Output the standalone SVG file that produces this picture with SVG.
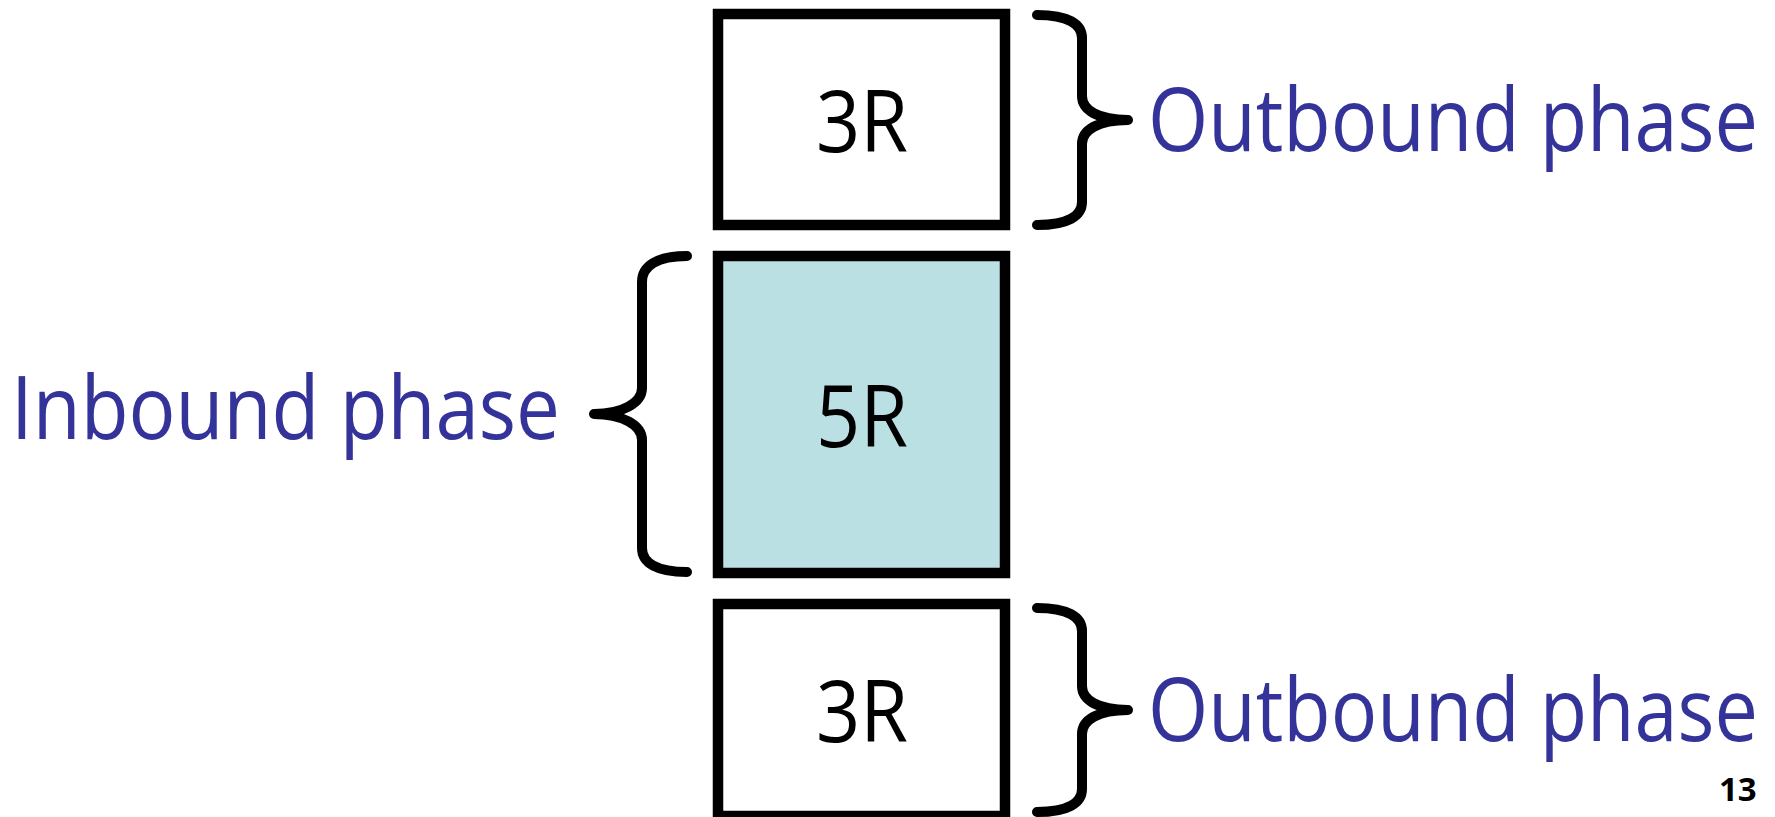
<svg xmlns="http://www.w3.org/2000/svg" width="1775" height="817" viewBox="0 0 1775 817">
<style>
.box{stroke:#000;stroke-width:10.5;}
.lbl{font-family:"Open Sans","Noto Sans",sans-serif;font-size:86px;fill:#000;text-anchor:middle;}
.phase{font-family:"Open Sans","Noto Sans",sans-serif;font-size:88px;fill:#333399;}
.brace{fill:none;stroke:#000;stroke-width:10;stroke-linecap:round;stroke-linejoin:round;}
.pg{font-family:"Open Sans","Liberation Sans",sans-serif;font-size:33px;font-weight:bold;fill:#000;}
</style>
<rect width="1775" height="817" fill="#fff"/>
<g id="top3R">
<rect class="box" x="718" y="14" width="287" height="211" fill="#fff"/>
<text class="lbl" x="862" y="152" textLength="92" lengthAdjust="spacingAndGlyphs">3R</text>
</g>
<g id="mid5R">
<rect class="box" x="718" y="256" width="287" height="317" fill="#BBE0E3"/>
<text class="lbl" x="862" y="447" textLength="92" lengthAdjust="spacingAndGlyphs">5R</text>
</g>
<g id="bot3R">
<rect class="box" x="718" y="604" width="287" height="212" fill="#fff"/>
<text class="lbl" x="862" y="742" textLength="92" lengthAdjust="spacingAndGlyphs">3R</text>
</g>
<g id="connectors">
<path class="brace" d="M1037,15 C1068,15 1082,24 1082,38 L1082,96 C1082,110 1098,120 1128,120 C1098,120 1082,130 1082,144 L1082,202 C1082,216 1068,225 1037,225"/>
<path class="brace" d="M687,256 C657,256 642,266 642,282 L642,388 C642,403 622,414 594,414 C622,414 642,425 642,440 L642,548 C642,563 657,572 687,572"/>
<path class="brace" d="M1037,608 C1068,608 1082,617 1082,631 L1082,686 C1082,700 1098,710 1128,710 C1098,710 1082,720 1082,734 L1082,789 C1082,803 1068,812 1037,812"/>
</g>
<g id="label-top">
<text class="phase" x="1148" y="151" textLength="610" lengthAdjust="spacingAndGlyphs">Outbound phase</text>
</g>
<g id="label-mid">
<text class="phase" x="11" y="439" textLength="549" lengthAdjust="spacingAndGlyphs">Inbound phase</text>
</g>
<g id="label-bot">
<text class="phase" x="1148" y="741" textLength="610" lengthAdjust="spacingAndGlyphs">Outbound phase</text>
</g>
<text class="pg" x="1719" y="801">13</text>
</svg>
